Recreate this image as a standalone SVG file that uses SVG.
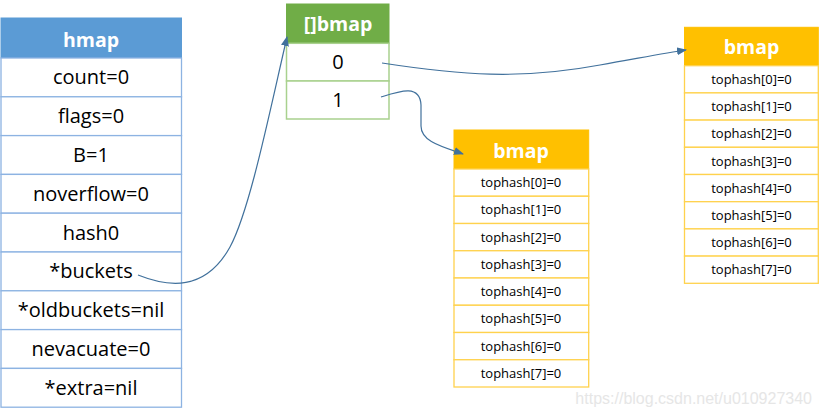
<svg xmlns="http://www.w3.org/2000/svg" width="821" height="417" viewBox="0 0 821 417">
<style>
.t{font-family:"Open Sans","Liberation Sans",sans-serif;font-size:20px;fill:#000;text-anchor:middle}
.h{font-family:"Open Sans","Liberation Sans",sans-serif;font-size:19.5px;font-weight:bold;fill:#fff;text-anchor:middle}
.s{font-family:"Open Sans","Liberation Sans",sans-serif;font-size:13px;fill:#000;text-anchor:middle}
.bl{fill:#fff;stroke:#8DB3E2;stroke-width:1.3}
.gr{fill:#fff;stroke:#A9D18E;stroke-width:1.5}
.yl{fill:#fff;stroke:#FFD24D;stroke-width:1.3}
.c{fill:none;stroke:#41719C;stroke-width:1.2}
.wm{font-family:"Liberation Sans",sans-serif;font-size:16px;fill:#E6E6E6;text-anchor:end}
</style>
<defs>
<marker id="ah" markerWidth="10" markerHeight="8" refX="9" refY="4" orient="auto" markerUnits="userSpaceOnUse">
<path d="M0,0 L10,4 L0,8 Z" fill="#41719C"/>
</marker>
</defs>
<rect width="821" height="417" fill="#fff"/>

<g id="hmap">
<rect x="1" y="18" width="180.5" height="40" fill="#5B9BD5" stroke="#5B9BD5"/>
<text class="h" x="91" y="46.5">hmap</text>
<rect class="bl" x="1" y="58" width="180.5" height="38.8"/>
<rect class="bl" x="1" y="96.8" width="180.5" height="38.8"/>
<rect class="bl" x="1" y="135.6" width="180.5" height="38.8"/>
<rect class="bl" x="1" y="174.4" width="180.5" height="38.8"/>
<rect class="bl" x="1" y="213.2" width="180.5" height="38.8"/>
<rect class="bl" x="1" y="252" width="180.5" height="38.8"/>
<rect class="bl" x="1" y="290.8" width="180.5" height="38.8"/>
<rect class="bl" x="1" y="329.6" width="180.5" height="38.8"/>
<rect class="bl" x="1" y="368.4" width="180.5" height="38.8"/>
<text class="t" x="91" y="84.4">count=0</text>
<text class="t" x="91" y="123.2">flags=0</text>
<text class="t" x="91" y="162">B=1</text>
<text class="t" x="91" y="200.8">noverflow=0</text>
<text class="t" x="91" y="239.6">hash0</text>
<text class="t" x="91" y="278.4">*buckets</text>
<text class="t" x="91" y="317.2">*oldbuckets=nil</text>
<text class="t" x="91" y="356">nevacuate=0</text>
<text class="t" x="91" y="394.8">*extra=nil</text>
</g>

<g id="bmap-array">
<rect x="286.5" y="4" width="102.5" height="39.3" fill="#70AD47" stroke="#70AD47"/>
<text class="h" x="338" y="31">[]bmap</text>
<rect class="gr" x="286.5" y="43.3" width="102.5" height="37.7"/>
<rect class="gr" x="286.5" y="81" width="102.5" height="38"/>
<text class="t" x="338" y="69">0</text>
<text class="t" x="338" y="107">1</text>
</g>

<g id="bmap-1">
<rect x="454" y="130" width="134.7" height="39" fill="#FFC000" stroke="#FFC000"/>
<text class="h" x="521" y="157.5">bmap</text>
<rect class="yl" x="454" y="169" width="134.7" height="27.25"/>
<rect class="yl" x="454" y="196.25" width="134.7" height="27.25"/>
<rect class="yl" x="454" y="223.5" width="134.7" height="27.25"/>
<rect class="yl" x="454" y="250.75" width="134.7" height="27.25"/>
<rect class="yl" x="454" y="278" width="134.7" height="27.25"/>
<rect class="yl" x="454" y="305.25" width="134.7" height="27.25"/>
<rect class="yl" x="454" y="332.5" width="134.7" height="27.25"/>
<rect class="yl" x="454" y="359.75" width="134.7" height="27.25"/>
<text class="s" x="521" y="187.2">tophash[0]=0</text>
<text class="s" x="521" y="214.4">tophash[1]=0</text>
<text class="s" x="521" y="241.7">tophash[2]=0</text>
<text class="s" x="521" y="268.9">tophash[3]=0</text>
<text class="s" x="521" y="296.2">tophash[4]=0</text>
<text class="s" x="521" y="323.4">tophash[5]=0</text>
<text class="s" x="521" y="350.7">tophash[6]=0</text>
<text class="s" x="521" y="377.9">tophash[7]=0</text>
</g>

<g id="bmap-0">
<rect x="684.5" y="27.3" width="133.8" height="38.4" fill="#FFC000" stroke="#FFC000"/>
<text class="h" x="751.5" y="54">bmap</text>
<rect class="yl" x="684.5" y="65.7" width="133.8" height="27.2"/>
<rect class="yl" x="684.5" y="92.9" width="133.8" height="27.2"/>
<rect class="yl" x="684.5" y="120.1" width="133.8" height="27.2"/>
<rect class="yl" x="684.5" y="147.3" width="133.8" height="27.2"/>
<rect class="yl" x="684.5" y="174.5" width="133.8" height="27.2"/>
<rect class="yl" x="684.5" y="201.7" width="133.8" height="27.2"/>
<rect class="yl" x="684.5" y="228.9" width="133.8" height="27.2"/>
<rect class="yl" x="684.5" y="256.1" width="133.8" height="27.2"/>
<text class="s" x="751.5" y="83.9">tophash[0]=0</text>
<text class="s" x="751.5" y="111.1">tophash[1]=0</text>
<text class="s" x="751.5" y="138.3">tophash[2]=0</text>
<text class="s" x="751.5" y="165.5">tophash[3]=0</text>
<text class="s" x="751.5" y="192.7">tophash[4]=0</text>
<text class="s" x="751.5" y="219.9">tophash[5]=0</text>
<text class="s" x="751.5" y="247.1">tophash[6]=0</text>
<text class="s" x="751.5" y="274.3">tophash[7]=0</text>
</g>

<g id="connectors">
<path class="c" d="M138,275 C168,287 205,292 230,247 C250,210 270,110 287,37" marker-end="url(#ah)"/>
<path class="c" d="M382,63 C460,75 520,80 600,65 C640,58 665,53 686,50" marker-end="url(#ah)"/>
<path class="c" d="M381,97 C400,91 420,84 421,105 L421,126 C421,141 440,146 463,154" marker-end="url(#ah)"/>
</g>

<text class="wm" x="812" y="404">https://blog.csdn.net/u010927340</text>
</svg>
